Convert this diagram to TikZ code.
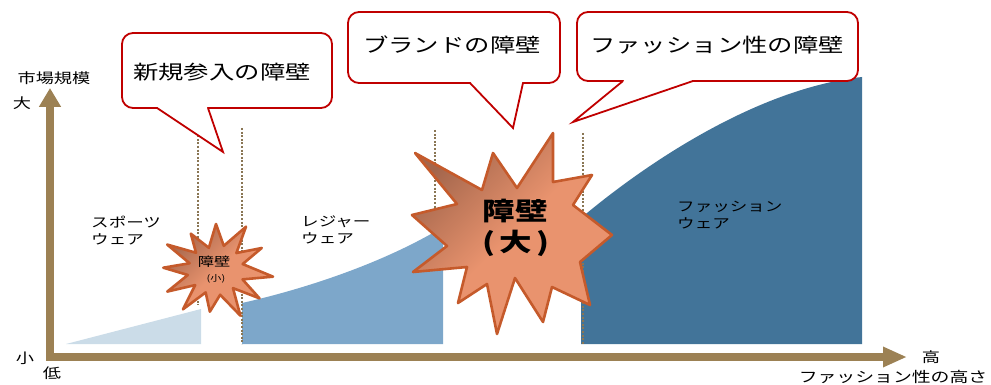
\documentclass[tikz,border=0pt]{standalone}
\usepackage{fontspec}
\usetikzlibrary{arrows.meta}
\newfontfamily\jp[FakeStretch=1.3]{Noto Sans CJK JP}
\definecolor{axisc}{HTML}{9C8154}
\definecolor{dotc}{HTML}{8A7654}
\definecolor{lightb}{HTML}{CBDCE8}
\definecolor{midb}{HTML}{7DA7CA}
\definecolor{darkb}{HTML}{427499}
\definecolor{callred}{HTML}{C00000}
\definecolor{starline}{HTML}{C55A2B}
\definecolor{stardark}{HTML}{A4664C}
\definecolor{starlight}{HTML}{E9936E}
\tikzset{
  lbl/.style={font=\jp\fontsize{13.5}{17}\selectfont, inner sep=0pt, align=left},
  axlbl/.style={font=\jp\fontsize{14}{16}\selectfont, inner sep=0pt},
  callout/.style={draw=callred, line width=1.8pt, fill=white, rounded corners=11pt},
  calltail/.style={draw=callred, line width=1.8pt, line join=miter},
  ctext/.style={font=\jp\fontsize{19.5}{22}\selectfont, inner sep=0pt},
  divider/.style={draw=dotc, line width=2.6pt, dash pattern=on 2pt off 1.6pt},
  burst/.style={draw=starline, line width=2.6pt, line join=round, top color=stardark, bottom color=starlight, middle color=starlight, shading angle=45},
  axisline/.style={draw=axisc, line width=7.5pt, line join=miter, {Triangle[width=21pt,length=19pt]}-{Triangle[width=19pt,length=24pt]}}
}
\begin{document}
\begin{tikzpicture}[x=1pt,y=-1pt]
\useasboundingbox (0,0) rectangle (991,385);
% market regions
\fill[lightb] (66,344) -- (201,344) -- (201,309) -- cycle;
\fill[midb] (242,344) -- (242,303) .. controls (300,290) and (380,265) .. (443,227) -- (443,344) -- cycle;
\fill[darkb] (581,344) -- (581,218) .. controls (650,160) and (760,88) .. (862,77) -- (862,344) -- cycle;
% dividers
\coordinate (d1t) at (198,128); \coordinate (d1b) at (198,305);
\coordinate (d2t) at (242,128); \coordinate (d2b) at (242,344);
\coordinate (d3t) at (435,130); \coordinate (d3b) at (435,230);
\coordinate (d4t) at (583,133); \coordinate (d4b) at (583,344);
\draw[divider] (d1t) -- (d1b);
\draw[divider] (d2t) -- (d2b);
\draw[divider] (d3t) -- (d3b);
\draw[divider] (d4t) -- (d4b);
% axes
\coordinate (ytip) at (50,88);
\coordinate (origin) at (50,357);
\coordinate (xtip) at (907,357);
\draw[axisline] (ytip) -- (origin) -- (xtip);
% small burst
\draw[burst, shift={(216,270)}, xscale=1.2]
  (8:48) \foreach \a/\r in {23/24,38/46,52/23,66/50,82/25,97/42,111/24,125/48,139/23,152/46,168/24,183/44,197/23,212/48,226/24,240/42,255/23,270/46,285/25,300/50,315/24,330/44,345/23} { -- (\a:\r) } -- cycle;
% big burst
\draw[burst] (415,153) -- (482,190) -- (493,153) -- (517,188) -- (553,133) -- (553,182) -- (592,175) -- (573,205) -- (612,235) -- (580,262) -- (590,305) -- (552,287) -- (543,322) -- (515,278) -- (497,334) -- (487,284) -- (458,303) -- (467,267) -- (413,272) -- (447,246) -- (412,215) -- (457,204) -- cycle;
% callout 1
\draw[callout] (122,33) rectangle (332,108);
\coordinate (c1a) at (157,108); \coordinate (c1tip) at (223,152); \coordinate (c1b) at (208,108);
\fill[white] (c1a) -- (c1tip) -- (c1b) -- cycle;
\draw[white, line width=2.2pt] (158,108) -- (207,108);
\draw[calltail] (c1a) -- (c1tip) -- (c1b);
% callout 2
\draw[callout] (348,12) rectangle (560,83);
\coordinate (c2a) at (470,83); \coordinate (c2tip) at (513,128); \coordinate (c2b) at (523,83);
\fill[white] (c2a) -- (c2tip) -- (c2b) -- cycle;
\draw[white, line width=2.2pt] (471,83) -- (522,83);
\draw[calltail] (c2a) -- (c2tip) -- (c2b);
% callout 3
\draw[callout] (577,12) rectangle (858,81);
\coordinate (c3a) at (623,81); \coordinate (c3tip) at (573,122); \coordinate (c3b) at (693,81);
\fill[white] (c3a) -- (c3tip) -- (c3b) -- cycle;
\draw[white, line width=2.2pt] (624,81) -- (692,81);
\draw[calltail] (c3a) -- (c3tip) -- (c3b);
% texts
\node[ctext] (t1) at (222,72) {新規参入の障壁};
\node[ctext] (t2) at (452,45) {ブランドの障壁};
\node[ctext] (t3) at (717,45) {ファッション性の障壁};
\node[lbl, anchor=west] (sport) at (91,231) {スポーツ\\ウェア};
\node[lbl, anchor=west] (leisure) at (301,230) {レジャー\\ウェア};
\node[lbl, anchor=west] (fashion) at (677,215) {ファッション\\ウェア};
\node[font=\jp\fontsize{12.5}{14}\selectfont, inner sep=0pt] (sw1) at (214,262) {障壁};
\node[font=\jp\fontsize{8.5}{10}\selectfont, inner sep=0pt] (sw2) at (216,279) {(小)};
\node[font=\jp\bfseries\fontsize{25}{28}\selectfont, inner sep=0pt] (bw1) at (515,211) {障壁};
\node[font=\jp\bfseries\fontsize{25}{28}\selectfont, inner sep=0pt] (bw2) at (516,243) {(\,大\,)};
\node[axlbl] (ylab) at (54,78) {市場規模};
\node[axlbl] (big) at (22,103) {大};
\node[axlbl] (small) at (25,358) {小};
\node[axlbl] (low) at (52,373) {低};
\node[axlbl] (high) at (931,357) {高};
\node[font=\jp\fontsize{14.5}{16}\selectfont, inner sep=0pt] (xlab) at (893,377) {ファッション性の高さ};
\end{tikzpicture}
\end{document}
